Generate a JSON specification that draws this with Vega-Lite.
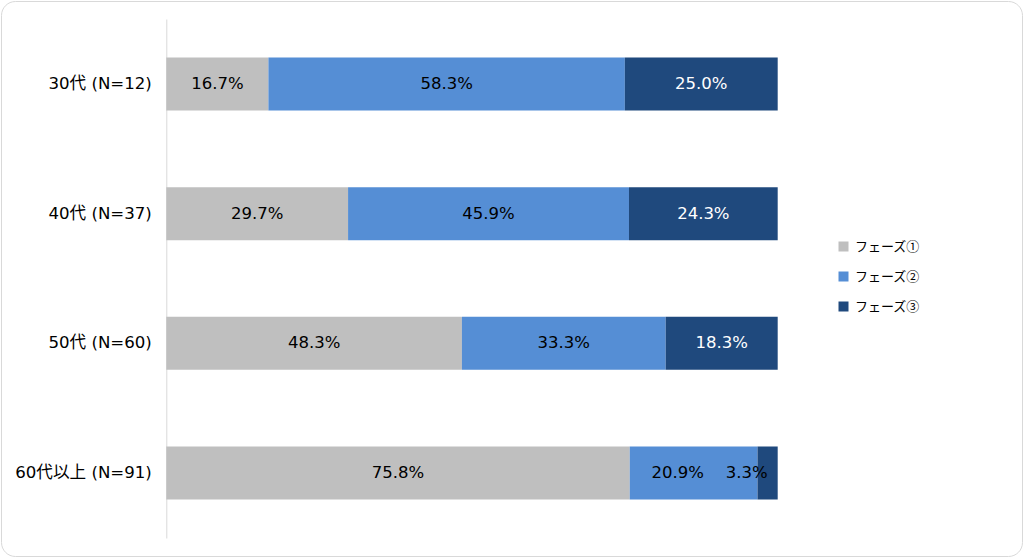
{
  "$schema": "https://vega.github.io/schema/vega-lite/v6.json",
  "autosize": "none",
  "padding": 1,
  "width": 1021,
  "height": 555,
  "background": "white",
  "config": {
    "view": {"stroke": "#d9d9d9", "strokeWidth": 1, "cornerRadius": 14},
    "font": "DejaVu Sans, Noto Sans CJK JP"
  },
  "data": {
    "values": [
      {"age": "30代 (N=12)", "phase": "フェーズ①", "value": 16.7, "ord": 1},
      {"age": "30代 (N=12)", "phase": "フェーズ②", "value": 58.3, "ord": 2},
      {"age": "30代 (N=12)", "phase": "フェーズ③", "value": 25.0, "ord": 3},
      {"age": "40代 (N=37)", "phase": "フェーズ①", "value": 29.7, "ord": 1},
      {"age": "40代 (N=37)", "phase": "フェーズ②", "value": 45.9, "ord": 2},
      {"age": "40代 (N=37)", "phase": "フェーズ③", "value": 24.3, "ord": 3},
      {"age": "50代 (N=60)", "phase": "フェーズ①", "value": 48.3, "ord": 1},
      {"age": "50代 (N=60)", "phase": "フェーズ②", "value": 33.3, "ord": 2},
      {"age": "50代 (N=60)", "phase": "フェーズ③", "value": 18.3, "ord": 3},
      {"age": "60代以上 (N=91)", "phase": "フェーズ①", "value": 75.8, "ord": 1},
      {"age": "60代以上 (N=91)", "phase": "フェーズ②", "value": 20.9, "ord": 2},
      {"age": "60代以上 (N=91)", "phase": "フェーズ③", "value": 3.3, "ord": 3}
    ]
  },
  "transform": [
    {"stack": "value", "groupby": ["age"], "sort": [{"field": "ord", "order": "ascending"}], "offset": "normalize", "as": ["x0", "x1"]},
    {"calculate": "(datum.x0 + datum.x1) / 2", "as": "xmid"},
    {"calculate": "format(datum.value, '.1f') + '%'", "as": "label"}
  ],
  "encoding": {
    "y": {
      "field": "age",
      "type": "nominal",
      "sort": null,
      "title": null,
      "scale": {"range": [18, 537], "paddingInner": 0.5915, "paddingOuter": 0.2958},
      "axis": {
        "offset": -165.3,
        "ticks": false,
        "domainColor": "#d9d9d9",
        "labelFont": "DejaVu Sans, Noto Sans CJK JP",
        "labelFontSize": 16.6,
        "labelColor": "#000000",
        "labelPadding": 15
      }
    }
  },
  "layer": [
    {
      "mark": {"type": "bar"},
      "encoding": {
        "x": {
          "field": "x0",
          "type": "quantitative",
          "scale": {"domain": [-0.27036, 1.39958], "nice": false, "zero": false},
          "axis": null
        },
        "x2": {"field": "x1"},
        "color": {
          "field": "phase",
          "type": "nominal",
          "title": null,
          "scale": {"domain": ["フェーズ①", "フェーズ②", "フェーズ③"], "range": ["#bfbfbf", "#558ed5", "#1f497d"]},
          "legend": {
            "orient": "none",
            "legendX": 836,
            "legendY": 239,
            "symbolType": "square",
            "symbolSize": 100,
            "symbolStrokeWidth": 0,
            "labelFont": "Noto Sans CJK JP",
            "labelFontSize": 13,
            "labelColor": "#000000",
            "labelOffset": 5,
            "rowPadding": 16
          }
        }
      }
    },
    {
      "transform": [{"filter": "datum.value >= 5 && !(datum.age === '60代以上 (N=91)' && datum.phase === 'フェーズ②')"}],
      "mark": {"type": "text", "fontSize": 16.5, "font": "DejaVu Sans, Noto Sans CJK JP"},
      "encoding": {
        "x": {"field": "xmid", "type": "quantitative"},
        "text": {"field": "label", "type": "nominal"},
        "color": {
          "condition": {"test": "datum.phase === 'フェーズ③'", "value": "#ffffff"},
          "value": "#000000"
        }
      }
    },
    {
      "transform": [{"filter": "datum.age === '60代以上 (N=91)' && datum.phase === 'フェーズ②'"}],
      "mark": {"type": "text", "fontSize": 16.5, "font": "DejaVu Sans, Noto Sans CJK JP", "dx": -16, "color": "#000000"},
      "encoding": {
        "x": {"field": "xmid", "type": "quantitative"},
        "text": {"field": "label", "type": "nominal"}
      }
    },
    {
      "transform": [{"filter": "datum.value < 5"}],
      "mark": {"type": "text", "fontSize": 16.5, "font": "DejaVu Sans, Noto Sans CJK JP", "dx": -21, "color": "#000000"},
      "encoding": {
        "x": {"field": "xmid", "type": "quantitative"},
        "text": {"field": "label", "type": "nominal"}
      }
    }
  ]
}
